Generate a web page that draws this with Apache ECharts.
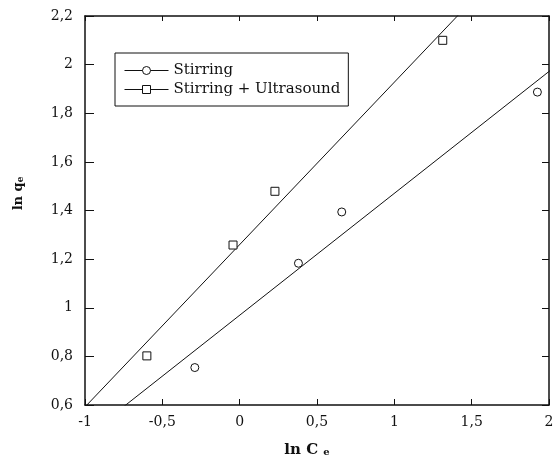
<!DOCTYPE html>
<html>
<head>
<meta charset="utf-8">
<script src="https://cdn.jsdelivr.net/npm/echarts@6/dist/echarts.min.js"></script>
<style>html,body{margin:0;padding:0;background:#fff}#c{width:555px;height:463px}</style>
</head>
<body>
<div id="c"></div>
<script>
// Freundlich isotherm: ln qe vs ln Ce
var stirringLnCe = [-0.29, 0.38, 0.66, 1.925];
var stirringLnQe = [0.754, 1.183, 1.394, 1.887];
var ultraLnCe = [-0.60, -0.043, 0.228, 1.313];
var ultraLnQe = [0.802, 1.258, 1.479, 2.100];
var seriesNames = ['Stirring', 'Stirring + Ultrasound'];
var xTicks = [-1, -0.5, 0, 0.5, 1, 1.5, 2];
var yTicks = [0.6, 0.8, 1, 1.2, 1.4, 1.6, 1.8, 2, 2.2];

function pairs(xs, ys) { return xs.map(function (x, i) { return [x, ys[i]]; }); }

// least-squares fit line across the full x-range
function fitLine(xs, ys, x0, x1) {
  var n = xs.length, mx = 0, my = 0;
  for (var i = 0; i < n; i++) { mx += xs[i]; my += ys[i]; }
  mx /= n; my /= n;
  var sxy = 0, sxx = 0;
  for (i = 0; i < n; i++) { sxy += (xs[i] - mx) * (ys[i] - my); sxx += (xs[i] - mx) * (xs[i] - mx); }
  var b = sxy / sxx, a = my - b * mx;
  return [[x0, a + b * x0], [x1, a + b * x1]];
}

function comma(v) { return String(Math.round(v * 10) / 10).replace('.', ','); }

var FONT = '"DejaVu Serif", "Liberation Serif", serif';
var INK = '#111';

var chart = echarts.init(document.getElementById('c'), null, { renderer: 'canvas' });

var baseAxis = {
  type: 'value',
  splitLine: { show: false },
  axisLine: { show: true, onZero: false, lineStyle: { color: INK, width: 1.5 } },
  axisTick: { show: true, inside: true, length: 7, lineStyle: { color: INK, width: 1 } }
};

chart.setOption({
  animation: false,
  backgroundColor: '#fff',
  textStyle: { fontFamily: FONT },
  grid: { left: 85, top: 16, right: 6, bottom: 58, containLabel: false, outerBoundsMode: 'none' },
  legend: {
    data: seriesNames,
    orient: 'vertical',
    left: 115, top: 53,
    itemWidth: 44, itemHeight: 10, itemGap: 4,
    padding: [10, 8, 9, 9],
    borderColor: INK, borderWidth: 1, borderRadius: 0,
    textStyle: { fontFamily: FONT, fontSize: 15, color: INK },
    lineStyle: { color: INK, width: 1, opacity: 1 },
    itemStyle: { color: '#fff', borderColor: INK, borderWidth: 1, opacity: 1 }
  },
  xAxis: [
    Object.assign({}, baseAxis, {
      min: -1, max: 2, interval: 0.5, position: 'bottom',
      axisTick: { show: true, inside: true, length: 6, lineStyle: { color: INK, width: 1 } },
      axisLabel: { margin: 10, fontSize: 14, color: INK, fontFamily: FONT, formatter: comma },
      name: '{a|ln C }{b|e}', nameLocation: 'middle', nameGap: 38,
      nameTextStyle: { padding: [0, 20, 0, 0], rich: {
        a: { fontFamily: FONT, fontSize: 15, fontWeight: 'bold', color: INK },
        b: { fontFamily: FONT, fontSize: 10, fontWeight: 'bold', color: INK, padding: [3, 0, 0, 0] }
      } }
    }),
    Object.assign({}, baseAxis, {
      min: -1, max: 2, interval: 0.5, position: 'top',
      axisTick: { show: true, inside: true, length: 5, lineStyle: { color: INK, width: 1 } },
      axisLabel: { show: false }
    })
  ],
  yAxis: [
    Object.assign({}, baseAxis, {
      min: 0.6, max: 2.2, interval: 0.2, position: 'left',
      axisTick: { show: true, inside: true, length: 9, lineStyle: { color: INK, width: 1 } },
      axisLabel: { margin: 12, fontSize: 14, color: INK, fontFamily: FONT, formatter: comma },
      name: '{a|ln q}{b|e}', nameLocation: 'middle', nameGap: 60,
      nameTextStyle: { padding: [0, 0, 0, 34], rich: {
        a: { fontFamily: FONT, fontSize: 13, fontWeight: 'bold', color: INK },
        b: { fontFamily: FONT, fontSize: 9, fontWeight: 'bold', color: INK, padding: [4, 0, 0, 0] }
      } }
    }),
    Object.assign({}, baseAxis, {
      min: 0.6, max: 2.2, interval: 0.2, position: 'right',
      axisTick: { show: true, inside: true, length: 7, lineStyle: { color: INK, width: 1 } },
      axisLabel: { show: false }
    })
  ],
  series: [
    {
      name: seriesNames[0], type: 'line',
      data: pairs(stirringLnCe, stirringLnQe),
      symbol: 'circle', symbolSize: 8,
      itemStyle: { color: '#fff', borderColor: INK, borderWidth: 1 },
      lineStyle: { width: 0, opacity: 0 },
      z: 5
    },
    {
      name: seriesNames[1], type: 'line',
      data: pairs(ultraLnCe, ultraLnQe),
      symbol: 'rect', symbolSize: 8,
      itemStyle: { color: '#fff', borderColor: INK, borderWidth: 1 },
      lineStyle: { width: 0, opacity: 0 },
      z: 5
    },
    {
      name: 'fit-stirring', type: 'line', showSymbol: false, symbol: 'none',
      data: fitLine(stirringLnCe, stirringLnQe, -1.5, 2.5),
      lineStyle: { color: INK, width: 1 }, clip: true, silent: true, z: 3
    },
    {
      name: 'fit-ultrasound', type: 'line', showSymbol: false, symbol: 'none',
      data: fitLine(ultraLnCe, ultraLnQe, -1.5, 2.5),
      lineStyle: { color: INK, width: 1 }, clip: true, silent: true, z: 3
    }
  ]
});
</script>
</body>
</html>
